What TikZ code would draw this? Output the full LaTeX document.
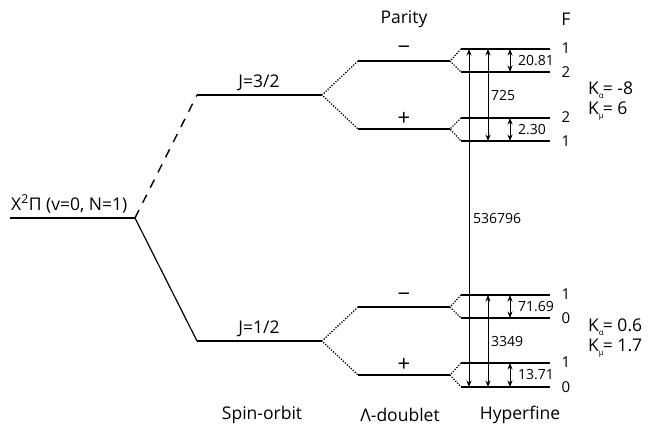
\documentclass[tikz,border=0pt]{standalone}
\usepackage{fontspec}
\setmainfont{Open Sans}
\usetikzlibrary{arrows.meta}
\newcommand\Ksub[1]{K\rlap{\raisebox{-3.5pt}{\fontsize{8}{8}\selectfont #1}}\hspace{4pt}}
\begin{document}
\begin{tikzpicture}[x=1pt,y=-1pt,
  level/.style={line width=1.5pt},
  hf/.style={line width=1.8pt},
  split/.style={line width=1.3pt, dash pattern=on 1.2pt off 1.5pt},
  meas/.style={line width=0.8pt, {Stealth[length=6.5pt,width=5pt]}-{Stealth[length=6.5pt,width=5pt]}},
  lab/.style={font=\fontsize{17.5}{19}\selectfont, inner sep=0pt},
  sign/.style={font=\fontsize{22}{22}\selectfont, inner sep=0pt},
  num/.style={font=\fontsize{14}{16}\selectfont, inner sep=0pt, anchor=west},
  fl/.style={font=\fontsize{15}{17}\selectfont, inner sep=0pt}]
\useasboundingbox (0,0) rectangle (652,426);

% ground level and spin-orbit levels
\coordinate (xl) at (10,218);  \coordinate (xr) at (135,218);
\coordinate (j3l) at (197,95); \coordinate (j3r) at (322,95);
\coordinate (j1l) at (197,341); \coordinate (j1r) at (322,341);
% Lambda-doublet levels
\coordinate (umL) at (358,61);  \coordinate (umR) at (450,61);
\coordinate (upL) at (358,129); \coordinate (upR) at (450,129);
\coordinate (lmL) at (358,307); \coordinate (lmR) at (450,307);
\coordinate (lpL) at (358,375); \coordinate (lpR) at (450,375);
% hyperfine levels
\coordinate (a1l) at (461,49);  \coordinate (a1r) at (550,49);
\coordinate (a2l) at (461,72);  \coordinate (a2r) at (550,72);
\coordinate (a3l) at (461,118); \coordinate (a3r) at (550,118);
\coordinate (a4l) at (461,141); \coordinate (a4r) at (550,141);
\coordinate (b1l) at (461,295); \coordinate (b1r) at (550,295);
\coordinate (b2l) at (461,318); \coordinate (b2r) at (550,318);
\coordinate (b3l) at (461,363); \coordinate (b3r) at (550,363);
\coordinate (b4l) at (461,387); \coordinate (b4r) at (550,387);
% arrow columns
\coordinate (cA) at (469,0);
\coordinate (cB) at (488,0);
\coordinate (cC) at (510,0);

\draw[level] (xl) -- (xr);
\draw[level] (j3l) -- (j3r);
\draw[level] (j1l) -- (j1r);
\draw[line width=1.4pt, dash pattern=on 9pt off 8pt] (xr) -- (j3l);
\draw[line width=1.2pt] (xr) -- (j1l);

\foreach \a/\b in {umL/umR, upL/upR, lmL/lmR, lpL/lpR}
  \draw[level] (\a) -- (\b);
\foreach \a/\b in {a1l/a1r, a2l/a2r, a3l/a3r, a4l/a4r, b1l/b1r, b2l/b2r, b3l/b3r, b4l/b4r}
  \draw[hf] (\a) -- (\b);

\draw[split] (umL) -- (j3r) -- (upL);
\draw[split] (lmL) -- (j1r) -- (lpL);
\draw[split] (a1l) -- (umR) -- (a2l);
\draw[split] (a3l) -- (upR) -- (a4l);
\draw[split] (b1l) -- (lmR) -- (b2l);
\draw[split] (b3l) -- (lpR) -- (b4l);

% measurement arrows
\draw[meas] (cA |- b4l) -- (cA |- a1l);
\draw[meas] (cB |- a1l) -- (cB |- a4l);
\draw[meas] (cB |- b1l) -- (cB |- b4l);
\draw[meas] (cC |- a1l) -- (cC |- a2l);
\draw[meas] (cC |- a3l) -- (cC |- a4l);
\draw[meas] (cC |- b1l) -- (cC |- b2l);
\draw[meas] (cC |- b3l) -- (cC |- b4l);

% numbers
\node[num] (n1) at (473,218) {536796};
\node[num] (n2) at (491,95) {725};
\node[num] (n3) at (491,341) {3349};
\node[num] (n4) at (518,61) {20.81};
\node[num] (n5) at (518,130) {2.30};
\node[num] (n6) at (518,307) {71.69};
\node[num] (n7) at (518,375) {13.71};

% F values
\node[fl] (f1) at (566,48) {1};
\node[fl] (f2) at (566,72) {2};
\node[fl] (f3) at (566,117) {2};
\node[fl] (f4) at (566,141) {1};
\node[fl] (f5) at (566,294) {1};
\node[fl] (f6) at (566,318) {0};
\node[fl] (f7) at (566,362) {1};
\node[fl] (f8) at (566,387) {0};

% labels
\node[lab, anchor=west] (xlab) at (11,204) {X\textsuperscript{2}Π (v=0, N=1)};
\node[lab] (j3lab) at (259,83) {J=3/2};
\node[lab] (j1lab) at (259,329) {J=1/2};
\node[sign] (pm1) at (404,50) {−};
\node[sign] (pp1) at (404,119) {+};
\node[sign] (pm2) at (404,297) {−};
\node[sign] (pp2) at (404,365) {+};
\node[lab] (parity) at (404,19) {Parity};
\node[lab] (Fh) at (566,19) {F};
\node[lab] (so) at (262,415) {Spin-orbit};
\node[lab] (ld) at (400,415) {Λ-doublet};
\node[lab] (hyp) at (520,415) {Hyperfine};

\node[lab, anchor=west] (k1) at (588,90) {\Ksub{α}= -8};
\node[lab, anchor=west] (k2) at (588,111) {\Ksub{μ}= 6};
\node[lab, anchor=west] (k3) at (588,327) {\Ksub{α}= 0.6};
\node[lab, anchor=west] (k4) at (588,348) {\Ksub{μ}= 1.7};
\end{tikzpicture}
\end{document}
